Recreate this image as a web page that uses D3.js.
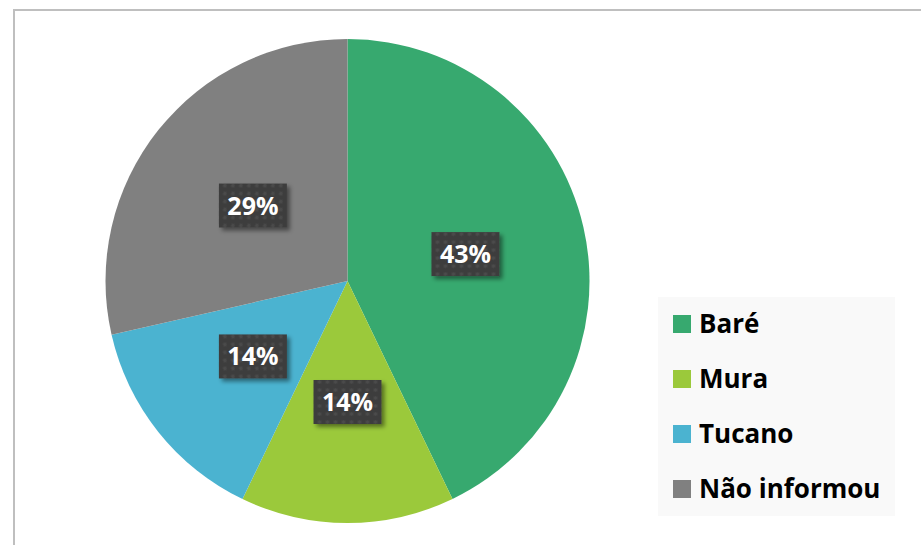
<!DOCTYPE html>
<html><head><meta charset="utf-8">
<script src="https://cdn.jsdelivr.net/npm/d3@7"></script>
<style>html,body{margin:0;padding:0;background:#fff;overflow:hidden}</style>
</head><body>
<svg id="chart" width="921" height="545"></svg>
<script>
const categories = ["Baré", "Mura", "Tucano", "Não informou"];
const values = [3, 1, 1, 2];
const labels = ["43%", "14%", "14%", "29%"];
const colors = ["#37a96f", "#9bc93b", "#4bb3d0", "#808080"];

const svg = d3.select("#chart");
const W = 921, H = 545;

svg.append("rect").attr("width", W).attr("height", H).attr("fill", "#fff");
// chart frame
svg.append("rect").attr("x", 14).attr("y", 10).attr("width", 930).attr("height", 560)
  .attr("fill", "none").attr("stroke", "#bfbfbf").attr("stroke-width", 2);

const defs = svg.append("defs");
const pat = defs.append("pattern").attr("id", "dots").attr("patternUnits", "userSpaceOnUse")
  .attr("width", 8).attr("height", 8);
pat.append("rect").attr("width", 8).attr("height", 8).attr("fill", "#3e3e3e");
pat.append("circle").attr("cx", 4).attr("cy", 4).attr("r", 1.8).attr("fill", "#4b4b4b");
const filt = defs.append("filter").attr("id", "shadow").attr("x", "-20%").attr("y", "-20%").attr("width", "150%").attr("height", "160%");
filt.append("feDropShadow").attr("dx", 3).attr("dy", 3).attr("stdDeviation", 2).attr("flood-color", "#000").attr("flood-opacity", 0.45);

const cx = 347.5, cy = 281, r = 242;
const pie = d3.pie().sort(null).value(d => d);
const arcs = pie(values);
const arc = d3.arc().innerRadius(0).outerRadius(r);

const g = svg.append("g").attr("transform", `translate(${cx},${cy})`);
g.selectAll("path.slice").data(arcs).join("path").attr("class", "slice")
  .attr("d", arc).attr("fill", (d, i) => colors[i]);

const lbl = g.selectAll("g.lbl").data(arcs).join("g").attr("class", "lbl")
  .attr("transform", d => { const c = arc.centroid(d); return `translate(${c[0]},${c[1]})`; });
lbl.append("rect").attr("x", -34).attr("y", -22).attr("width", 68).attr("height", 44)
  .attr("fill", "url(#dots)").attr("filter", "url(#shadow)");
lbl.append("text").text((d, i) => labels[i])
  .attr("text-anchor", "middle").attr("dy", "0.36em")
  .attr("font-family", "'Open Sans', sans-serif").attr("font-weight", 700)
  .attr("font-size", 25).attr("fill", "#fff");

// legend
const lg = svg.append("g");
lg.append("rect").attr("x", 658).attr("y", 297).attr("width", 237).attr("height", 219).attr("fill", "#f9f9f9");
const y = d3.scalePoint().domain(categories).range([324, 489]);
const items = lg.selectAll("g.item").data(categories).join("g").attr("class", "item")
  .attr("transform", d => `translate(673,${y(d)})`);
items.append("rect").attr("x", 0).attr("y", -9).attr("width", 18).attr("height", 18)
  .attr("fill", (d, i) => colors[i]);
items.append("text").text(d => d).attr("x", 26).attr("dy", "0.36em")
  .attr("font-family", "'Open Sans', sans-serif").attr("font-weight", 700)
  .attr("font-size", 26).attr("fill", "#000");
</script>
</body></html>
